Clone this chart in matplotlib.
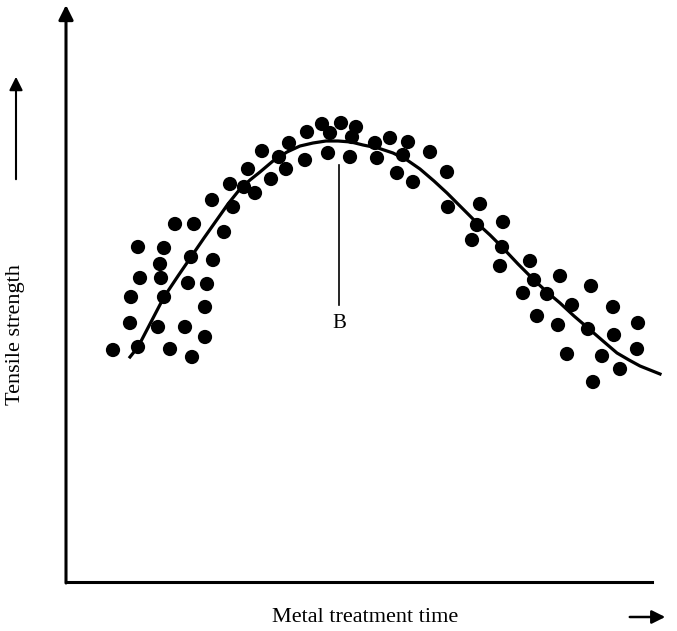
import matplotlib
matplotlib.use("Agg")
import matplotlib.pyplot as plt

# scatter data (treatment time, tensile strength), arbitrary units
time = [47, 72, 104, 126, 64, 92, 119, 139, 65, 98, 139, 74, 95, 122, 141, 94, 125, 147,
        72, 98, 158, 109, 128, 146, 167, 164, 178, 189, 182, 205, 196, 213, 220, 223,
        239, 241, 256, 264, 262, 275, 290, 286, 284, 309, 311, 324, 342, 337, 364, 331,
        347, 381, 382,
        414, 411, 406, 437, 436, 434, 464, 468, 457, 481, 494, 506, 471, 492, 525, 522,
        547, 548, 572, 501, 536, 571, 554, 527]
strength = [232, 235, 233, 225, 259, 255, 255, 245, 285, 285, 275, 304, 304, 299, 298, 318, 325, 322,
            335, 334, 350, 358, 358, 382, 375, 398, 395, 389, 413, 403, 431, 425, 413, 439,
            422, 450, 458, 449, 429, 459, 455, 445, 425, 439, 424, 444, 440, 427, 430, 409,
            400, 410, 375,
            378, 357, 342, 360, 335, 316, 321, 302, 289, 288, 306, 277, 266, 257, 296, 253,
            275, 247, 259, 228, 226, 233, 213, 200]

# fitted curve
curve_time = [64, 72, 85, 98, 112, 125, 138, 150, 162, 174, 184, 194, 207, 221, 234, 247,
              260, 272, 285, 297, 312, 327, 341, 354, 368, 381, 394, 412, 424, 436, 452,
              468, 481, 494, 508, 522, 537, 551, 563, 574, 584, 594]
curve_strength = [225, 235, 260, 285, 306, 325, 344, 361, 378, 393, 402, 410, 421, 430, 436, 439,
                  441, 441, 440, 437, 434, 429, 422, 413, 401, 389, 376, 358, 347, 335, 318,
                  302, 290, 279, 266, 254, 241, 229, 222, 216, 212, 208]

# marker B (optimum)
b_time = 273
b_top = 417
b_bottom = 277

plt.rcParams['font.family'] = ['Liberation Serif', 'DejaVu Serif']

fig = plt.figure(figsize=(6.77, 6.31), dpi=100)
W, H = 677, 631
left, right, bottom, top = 66, 652, 582, 28
ax = fig.add_axes([left / W, (H - bottom) / H, (right - left) / W, (bottom - top) / H])
ax.set_xlim(0, right - left)
ax.set_ylim(0, bottom - top)

ax.scatter(time, strength, s=105, color='black', edgecolors='none', zorder=3, clip_on=False)
ax.plot(curve_time, curve_strength, color='black', lw=2.3, clip_on=False, zorder=2,
        solid_joinstyle='round')
ax.plot([b_time, b_time], [b_top, b_bottom], color='black', lw=1.2)
ax.text(b_time, b_bottom - 18, 'B', ha='center', va='center', fontsize=15)

# axes frame: only left (with arrow) and bottom
for side in ['top', 'right', 'left']:
    ax.spines[side].set_visible(False)
ax.spines['bottom'].set_linewidth(2.2)
ax.set_xticks([])
ax.set_yticks([])
ax.annotate('', xy=(0, bottom - 5), xytext=(0, -1), xycoords='data', textcoords='data',
            annotation_clip=False,
            arrowprops=dict(arrowstyle='-|>', lw=2.2, color='black', mutation_scale=22,
                            shrinkA=0, shrinkB=0))

# axis labels with direction arrows
fig.text(16 / W, (H - 335) / H, 'Tensile strength', rotation=90, ha='center', va='center', fontsize=16)
fig.text(365 / W, (H - 617) / H, 'Metal treatment time', ha='center', va='center', fontsize=16)
fig.add_artist(matplotlib.patches.FancyArrowPatch((16, H - 182), (16, H - 74), transform=None,
                                                  arrowstyle='-|>', mutation_scale=20, lw=1.5,
                                                  color='black'))
fig.add_artist(matplotlib.patches.FancyArrowPatch((627, H - 617), (668, H - 617), transform=None,
                                                  arrowstyle='-|>', mutation_scale=20, lw=1.8,
                                                  color='black'))

fig.savefig('out.png', dpi=100)
